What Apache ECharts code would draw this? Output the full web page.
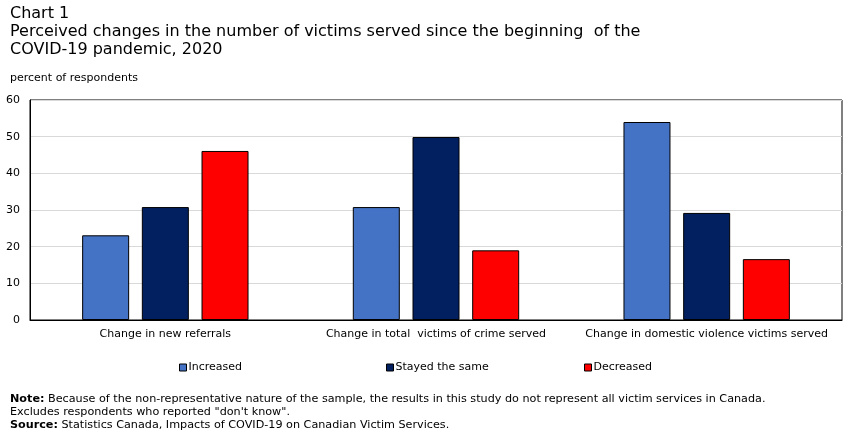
<!DOCTYPE html>
<html>
<head>
<meta charset="utf-8">
<script src="https://cdn.jsdelivr.net/npm/echarts@6/dist/echarts.min.js"></script>
<style>
  html, body { margin: 0; padding: 0; background: #fff; }
  #chart { width: 851px; height: 436px; }
</style>
</head>
<body>
<div id="chart"></div>
<script>
const categories = [
  "Change in new referrals",
  "Change in total  victims of crime served",
  "Change in domestic violence victims served",
];
const seriesNames = ["Increased", "Stayed the same", "Decreased"];
const increased = [23.1, 30.8, 54.0];
const stayedSame = [30.8, 49.9, 29.2];
const decreased = [46.1, 19.0, 16.6];
const yTicks = [0, 10, 20, 30, 40, 50, 60];

const colors = ["#4472c4", "#022060", "#ff0000"];
const font = "DejaVu Sans";

const chart = echarts.init(document.getElementById("chart"));

function legendAt(name, left) {
  return {
    data: [name],
    left: left,
    top: 357,
    itemWidth: 7,
    itemHeight: 7,
    icon: "rect",
    itemStyle: { borderColor: "#000", borderWidth: 1 },
    textStyle: { fontFamily: font, fontSize: 11, color: "#000", padding: [0, 0, 0, -3] },
  };
}

chart.setOption({
  animation: false,
  color: colors,
  title: [
    {
      text: "Chart 1\nPerceived changes in the number of victims served since the beginning  of the\nCOVID-19 pandemic, 2020",
      left: 5,
      top: 0,
      textStyle: { fontFamily: font, fontSize: 16, fontWeight: "normal", color: "#000", lineHeight: 18 },
    },
    {
      text: "percent of respondents",
      left: 5,
      top: 68,
      textStyle: { fontFamily: font, fontSize: 11, fontWeight: "normal", color: "#000" },
    },
    {
      text: "{b|Note:} Because of the non-representative nature of the sample, the results in this study do not represent all victim services in Canada.\nExcludes respondents who reported \"don't know\".\n{b|Source:} Statistics Canada, Impacts of COVID-19 on Canadian Victim Services.",
      left: 5,
      top: 388,
      textStyle: {
        fontFamily: font,
        fontSize: 11.2,
        fontWeight: "normal",
        color: "#000",
        lineHeight: 13,
        rich: { b: { fontFamily: font, fontSize: 11.2, fontWeight: "bold", color: "#000" } },
      },
    },
  ],
  legend: [
    legendAt(seriesNames[0], 174),
    legendAt(seriesNames[1], 381),
    legendAt(seriesNames[2], 579),
  ],
  grid: { left: 30, right: 9, top: 100, bottom: 116, containLabel: false, show: true, borderColor: "#000", borderWidth: 1 },
  xAxis: {
    type: "category",
    data: categories,
    axisLine: { lineStyle: { color: "#000", width: 1 } },
    axisTick: { show: false },
    axisLabel: { interval: 0, fontFamily: font, fontSize: 11, color: "#000", margin: 9 },
  },
  yAxis: {
    type: "value",
    min: yTicks[0],
    max: yTicks[yTicks.length - 1],
    interval: 10,
    axisLine: { show: true, lineStyle: { color: "#000" } },
    axisTick: { show: false },
    axisLabel: { fontFamily: font, fontSize: 11, color: "#000", margin: 10 },
    splitLine: { lineStyle: { color: "#d9d9d9" } },
  },
  series: [
    { name: seriesNames[0], type: "bar", data: increased },
    { name: seriesNames[1], type: "bar", data: stayedSame },
    { name: seriesNames[2], type: "bar", data: decreased },
  ].map((s) => ({
    ...s,
    barWidth: 47,
    barGap: "27%",
    itemStyle: { borderColor: "#000", borderWidth: 1 },
  })),
});
</script>
</body>
</html>
